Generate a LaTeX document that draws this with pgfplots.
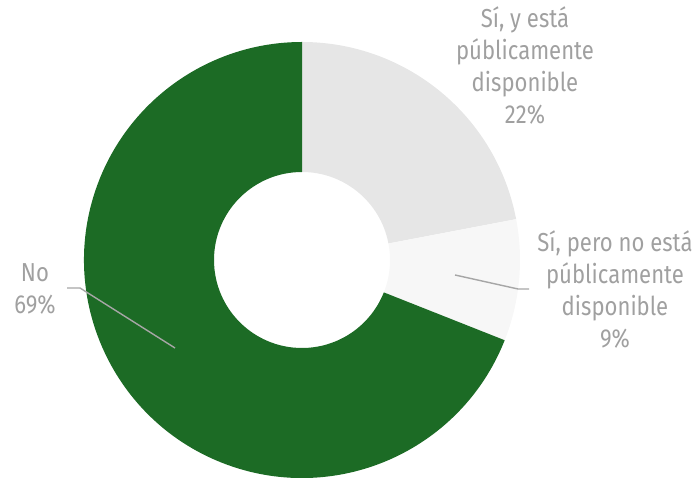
\documentclass[border=0pt]{standalone}
\usepackage{pgfplots}
\pgfplotsset{compat=1.18}
\usepackage{pgfplotstable}
\usepackage{fontspec}
\setmainfont{Fira Sans}[FakeStretch=0.85]

\definecolor{sliceA}{HTML}{E6E6E6}
\definecolor{sliceB}{HTML}{F7F7F7}
\definecolor{sliceC}{HTML}{1C6B25}
\definecolor{labelgray}{HTML}{A0A0A0}
\definecolor{leader}{HTML}{A6A6A6}

% share of answers, clockwise from 12 o'clock
\pgfplotstableread[col sep=comma]{
label,value
Si publica,22
Si no publica,9
No,69
}\piedata

\pgfplotstablegetelem{0}{value}\of\piedata \let\va\pgfplotsretval
\pgfplotstablegetelem{1}{value}\of\piedata \let\vb\pgfplotsretval
\pgfplotstablegetelem{2}{value}\of\piedata \let\vc\pgfplotsretval
\pgfmathsetmacro\aA{90}
\pgfmathsetmacro\aB{\aA-3.6*\va}
\pgfmathsetmacro\aC{\aB-3.6*\vb}
\pgfmathsetmacro\aD{\aC-3.6*\vc}

% centre and radii (1 unit = 1pt)
\def\cx{302}\def\cy{218}\def\Ro{218}\def\Ri{88}

\newcommand\slice[3]{%
  \fill[#1] (axis cs:{\cx+\Ro*cos(#2)},{\cy+\Ro*sin(#2)})
    arc[start angle=#2, end angle=#3, radius=\Ro pt]
    -- (axis cs:{\cx+\Ri*cos(#3)},{\cy+\Ri*sin(#3)})
    arc[start angle=#3, end angle=#2, radius=\Ri pt] -- cycle;}

\tikzset{lbl/.style={text=labelgray, anchor=base, inner sep=0pt,
  font=\fontsize{26pt}{32pt}\selectfont}}

\begin{document}
\begin{tikzpicture}
\useasboundingbox (0,0) rectangle (698pt,478pt);
\begin{axis}[
  x=1pt, y=1pt,
  xmin=0, xmax=698, ymin=0, ymax=478,
  hide axis, clip=false,
  ]
  \slice{sliceA}{\aA}{\aB}
  \slice{sliceB}{\aB}{\aC}
  \slice{sliceC}{\aC}{\aD}

  \draw[leader, line width=1.4pt] (axis cs:455,203) -- (axis cs:518,189) -- (axis cs:529,189);
  \draw[leader, line width=1.4pt] (axis cs:67,190) -- (axis cs:80,190) -- (axis cs:175,130);

  \node[lbl] at (axis cs:525,450) {Sí, y está};
  \node[lbl] at (axis cs:525,418) {públicamente};
  \node[lbl] at (axis cs:525,386) {disponible};
  \node[lbl] at (axis cs:525,354) {22\%};

  \node[lbl] at (axis cs:615,226) {Sí, pero no está};
  \node[lbl] at (axis cs:615,194) {públicamente};
  \node[lbl] at (axis cs:615,162) {disponible};
  \node[lbl] at (axis cs:615,130) {9\%};

  \node[lbl] at (axis cs:35,196) {No};
  \node[lbl] at (axis cs:35,164) {69\%};
\end{axis}
\end{tikzpicture}
\end{document}
